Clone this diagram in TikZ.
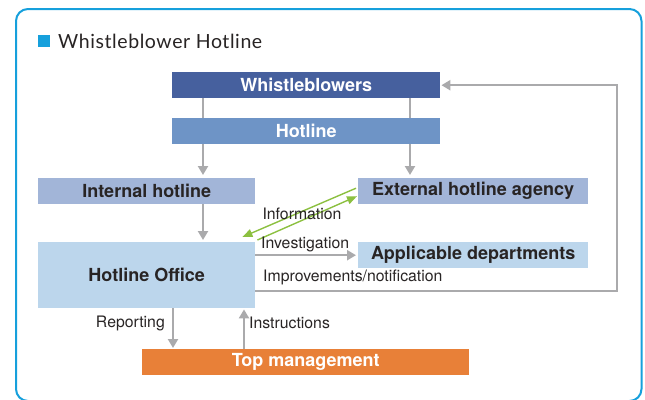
\documentclass[tikz,border=0pt]{standalone}
\usepackage{fontspec}
\usepackage{tikz}
\usepackage{xcolor}
\usetikzlibrary{arrows.meta}
\newfontfamily\helv{TeX Gyre Heros}
\newfontfamily\lato[LetterSpace=3]{Lato}
\newcommand{\FC}{\helv\fontsize{18}{21}\selectfont\bfseries}
\newcommand{\FE}{\helv\fontsize{15.8}{18}\selectfont}
\newcommand{\FT}{\lato\fontsize{19.5}{23}\selectfont}

\definecolor{marco}{RGB}{22,160,220}
\definecolor{azulA}{RGB}{70,96,158}
\definecolor{azulB}{RGB}{110,148,198}
\definecolor{azulC}{RGB}{162,181,216}
\definecolor{azulD}{RGB}{188,214,236}
\definecolor{naranja}{RGB}{232,128,56}
\definecolor{gris}{RGB}{170,170,172}
\definecolor{verde}{RGB}{140,192,64}
\definecolor{tinta}{RGB}{40,36,36}

\begin{document}
\begin{tikzpicture}[x=1pt,y=-1pt]
\tikzstyle{caja}=[draw=none,anchor=north west,inner sep=0pt,minimum height=26pt,font=\FC,text=tinta]
\tikzstyle{texto}=[draw=none,fill=none,inner sep=0pt,text=tinta,font=\FE]
\tikzstyle{flecha}=[gris,line width=2.4pt,-{Triangle[length=9pt,width=10pt]}]
\tikzstyle{linea}=[gris,line width=2.4pt]
\tikzstyle{info}=[verde,line width=1.4pt,-{Triangle[length=10pt,width=8pt]}]

\useasboundingbox (0,0) rectangle (645,399);
\draw[marco,line width=2pt,rounded corners=12pt] (16,9) rectangle (641.5,401);

% title
\fill[marco] (38,35) rectangle (50,47);
\node[anchor=base west,inner sep=0pt,text=tinta,font=\FT] (titulo) at (58,48) {Whistleblower Hotline};

% boxes
\node[caja,fill=azulA,text=white,minimum width=268pt] (wb) at (172,72) {Whistleblowers};
\node[caja,fill=azulB,text=white,minimum width=268pt] (hot) at (172,118) {Hotline};
\node[caja,fill=azulC,minimum width=217pt] (inth) at (38,178) {Internal hotline};
\node[caja,fill=azulC,minimum width=230pt] (exth) at (358,178) {External hotline agency};
\node[caja,fill=azulD,minimum width=217pt,minimum height=66pt] (office) at (38,242) {Hotline Office};
\node[caja,fill=azulD,minimum width=230pt] (depts) at (358,242) {Applicable departments};
\node[caja,fill=naranja,text=white,minimum width=327pt] (top) at (142,349) {Top management};

% columns for the vertical connectors
\coordinate (c1) at (203,0);
\coordinate (c2) at (410,0);
\coordinate (c3) at (173,0);
\coordinate (c4) at (244,0);
\coordinate (rt) at (617,0);

\draw[linea] (wb.south -| c1) -- (hot.north -| c1);
\draw[linea] (wb.south -| c2) -- (hot.north -| c2);
\draw[flecha,shorten >=3pt] (hot.south -| c1) -- (inth.north -| c1);
\draw[flecha,shorten >=3pt] (hot.south -| c2) -- (exth.north -| c2);
\draw[flecha,shorten >=2pt] (inth.south -| c1) -- (office.north -| c1);
\draw[flecha,shorten >=2pt] (depts.west -| office.east) -- (depts.west);
\draw[flecha,shorten >=1pt] (office.south -| c3) -- (top.north -| c3);
\draw[flecha,shorten >=1pt] (top.north -| c4) -- (office.south -| c4);
\draw[flecha,shorten >=1pt] ([yshift=-16pt]office.east) -| (rt |- wb.east) -- (wb.east);

\draw[info] ([xshift=-2pt,yshift=3pt]exth.west) -- ([xshift=-13pt,yshift=5pt]office.north east);
\draw[info] ([xshift=2pt,yshift=2pt]office.north east) -- ([xshift=-1pt,yshift=-5pt]exth.west);

% labels
\node[texto] (linfo) at (302,214) {Information};
\node[texto,anchor=west] (linv) at (261,244) {Investigation};
\node[texto,anchor=west] (limp) at (263,277) {Improvements/notification};
\node[texto,anchor=east] (lrep) at (165,323) {Reporting};
\node[texto,anchor=west] (lins) at (249,323) {Instructions};
\end{tikzpicture}
\end{document}
